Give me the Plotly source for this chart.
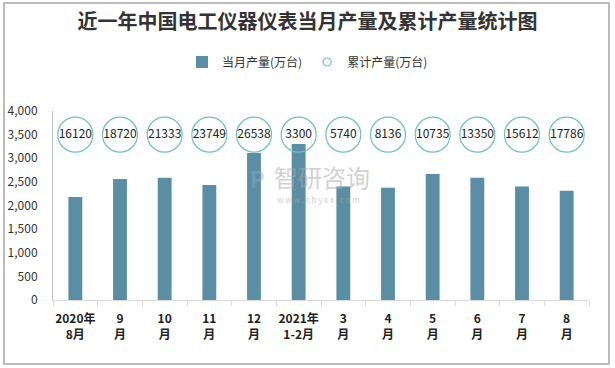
import plotly.graph_objects as go

categories = ["2020年<br>8月", "9<br>月", "10<br>月", "11<br>月", "12<br>月", "2021年<br>1-2月",
              "3<br>月", "4<br>月", "5<br>月", "6<br>月", "7<br>月", "8<br>月"]
monthly = [2180, 2560, 2585, 2435, 3110, 3300, 2400, 2375, 2665, 2585, 2400, 2310]
cumulative = [16120, 18720, 21333, 23749, 26538, 3300, 5740, 8136, 10735, 13350, 15612, 17786]
bubble_level = [3500] * 12

fig = go.Figure()
fig.add_trace(go.Bar(
    x=categories, y=monthly, name="当月产量(万台)",
    marker=dict(color="#5a8ea4", line=dict(width=0)), width=0.31,
))
fig.add_trace(go.Scatter(
    x=categories, y=bubble_level, name="累计产量(万台)", mode="markers+text",
    text=[str(v) for v in cumulative], textposition="middle center",
    textfont=dict(family="Noto Sans CJK SC, sans-serif", size=12, color="#222222"),
    marker=dict(symbol="circle", size=35, color="rgba(255,255,255,0)",
                line=dict(color="#6cc3bb", width=1.2)),
    showlegend=False,
))
fig.add_trace(go.Scatter(
    x=[None], y=[None], name="累计产量(万台)", mode="markers",
    marker=dict(symbol="circle", size=8, color="white",
                line=dict(color="#6cc3bb", width=1.2)),
))

fig.update_layout(
    width=615, height=368,
    margin=dict(l=53, r=26, t=111, b=68, autoexpand=False),
    paper_bgcolor="white", plot_bgcolor="white",
    font=dict(family="Noto Sans CJK SC, sans-serif", color="#333333", size=12),
    title=dict(text="<b>近一年中国电工仪器仪表当月产量及累计产量统计图</b>",
               x=0.5, xanchor="center", xref="container",
               y=1 - 22 / 368, yanchor="middle", yref="container",
               font=dict(size=20, color="#333333", family="Noto Sans CJK SC, serif")),
    legend=dict(orientation="h", x=0.5, xanchor="center", xref="container",
                y=1 - 62 / 368, yanchor="middle", yref="container",
                font=dict(size=12, color="#333333"), itemwidth=30,
                tracegroupgap=0),
    showlegend=True,
    bargap=0.69,
)
fig.update_xaxes(
    type="category", range=[-0.5, 11.5], autorange=False,
    showline=True, linecolor="#d9d9d9", linewidth=1,
    ticks="outside", tickson="boundaries", tickcolor="#d9d9d9", ticklen=5,
    tickangle=0, automargin=False, ticklabelstandoff=8,
    tickfont=dict(size=12, color="#222222", family="Noto Sans CJK SC, sans-serif",
                  weight="bold"),
    showgrid=False, fixedrange=True,
)
fig.update_yaxes(
    range=[0, 4000], autorange=False, dtick=500, tickformat=",", showgrid=False,
    zeroline=False, showline=True, linecolor="#bfbfbf", linewidth=1, ticks="",
    automargin=False, ticklabelstandoff=12, tickfont=dict(size=12, color="#333333"),
)

# watermark
fig.add_annotation(text="智研咨询", xref="paper", yref="paper",
                   x=(322 - 53) / 536, y=(300 - 176) / 189, showarrow=False,
                   font=dict(size=24, color="rgba(170,170,170,0.55)"))
fig.add_annotation(text="w w w . c h y x x . c o m", xref="paper", yref="paper",
                   x=(318 - 53) / 536, y=(300 - 199) / 189, showarrow=False,
                   font=dict(size=8, color="rgba(170,170,170,0.6)"))
fig.add_annotation(text="<b>P</b>", xref="paper", yref="paper",
                   x=(257 - 53) / 536, y=(300 - 178) / 189, showarrow=False,
                   font=dict(size=22, color="rgba(150,170,200,0.45)"))

# outer border
fig.add_shape(type="rect", xref="paper", yref="paper",
              x0=(4 - 53) / 536, x1=(609 - 53) / 536,
              y0=(300 - 364) / 189, y1=(300 - 3) / 189,
              line=dict(color="#a6a6a6", width=1.5), fillcolor="rgba(0,0,0,0)", layer="below")

fig.write_html("out.html", config={"displayModeBar": False},
               post_script="document.body.style.margin='0px';")
